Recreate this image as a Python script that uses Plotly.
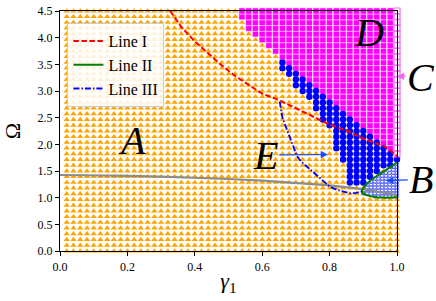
import numpy as np
import plotly.graph_objects as go

# ---------------- data ----------------
# sampling grid of the phase diagram
gamma_grid = np.round(np.arange(1, 51) * 0.02, 2)      # 0.02 ... 1.00
omega_grid = np.linspace(0.0, 4.5, 43)

# region D (magenta squares): lowest Omega per column
d_cols = [0.54, 0.56, 0.58, 0.60, 0.62, 0.64, 0.66, 0.68, 0.70, 0.72, 0.74, 0.76,
          0.78, 0.80, 0.82, 0.84, 0.86, 0.88, 0.90, 0.92, 0.94, 0.96, 0.98]
d_lo = [4.39, 4.18, 4.07, 3.96, 3.86, 3.75, 3.64, 3.54, 3.43, 3.32, 3.21, 3.11,
        3.00, 2.89, 2.79, 2.68, 2.57, 2.46, 2.36, 2.25, 2.14, 2.04, 1.93]

# blue-dot region: Omega range per column
blue_cols = [0.66, 0.68, 0.70, 0.72, 0.74, 0.76, 0.78, 0.80, 0.82, 0.84, 0.86,
             0.88, 0.90, 0.92, 0.94, 0.96, 0.98, 1.00]
blue_lo = [3.43, 3.32, 3.11, 3.00, 2.89, 2.68, 2.46, 2.36, 1.93, 1.71, 1.29,
           1.29, 1.29, 1.39, 1.50, 1.61, 1.61, 1.71]
blue_hi = [3.54, 3.43, 3.32, 3.21, 3.11, 3.00, 2.89, 2.79, 2.68, 2.57, 2.46,
           2.36, 2.25, 2.14, 2.04, 1.93, 1.82, 1.71]

# region C: the gamma = 1 column above this Omega
c_gamma = 1.0
c_lo = 1.82

# Line I (red dashed)
line1_g = [0.327, 0.36, 0.40, 0.44, 0.48, 0.52, 0.56, 0.60, 0.65, 0.70, 0.75,
           0.80, 0.85, 0.90, 0.95, 0.97, 1.00]
line1_o = [4.50, 4.20, 3.93, 3.70, 3.48, 3.28, 3.12, 2.95, 2.83, 2.68, 2.52,
           2.37, 2.26, 2.11, 1.99, 1.94, 1.78]

# Line II (green solid) - boundary of region B
line2_g = [1.00, 0.985, 0.97, 0.955, 0.94, 0.925, 0.912, 0.902, 0.896, 0.897,
           0.905, 0.92, 0.94, 0.97, 1.00]
line2_o = [1.66, 1.59, 1.53, 1.47, 1.41, 1.34, 1.27, 1.20, 1.13, 1.09,
           1.06, 1.03, 1.01, 1.00, 1.01]

# Line III (blue dash-dot)
line3_g = [0.652, 0.656, 0.660, 0.666, 0.672, 0.680, 0.688, 0.695, 0.703, 0.715,
           0.733, 0.748, 0.762, 0.780, 0.800, 0.820, 0.840, 0.860, 0.880, 0.896]
line3_o = [2.80, 2.66, 2.50, 2.40, 2.30, 2.18, 2.06, 1.92, 1.78, 1.68,
           1.58, 1.50, 1.41, 1.31, 1.21, 1.15, 1.11, 1.08, 1.09, 1.12]

# grey curve
grey_g = [0.0, 0.1, 0.2, 0.3, 0.4, 0.5, 0.6, 0.7, 0.8, 0.9, 0.95, 1.0]
grey_o = [1.425, 1.42, 1.41, 1.395, 1.375, 1.35, 1.32, 1.28, 1.23, 1.16, 1.11, 1.05]

x_ticks = [0.0, 0.2, 0.4, 0.6, 0.8, 1.0]
y_ticks = [0.0, 0.5, 1.0, 1.5, 2.0, 2.5, 3.0, 3.5, 4.0, 4.5]

# ---------------- classification of grid points ----------------
G, W = np.meshgrid(gamma_grid, omega_grid)
G = G.ravel()
W = W.ravel()
label = np.full(G.shape, "A", dtype=object)
tol = 0.03
for c, lo in zip(d_cols, d_lo):
    label[np.isclose(G, c) & (W >= lo - tol)] = "D"
for c, lo, hi in zip(blue_cols, blue_lo, blue_hi):
    label[np.isclose(G, c) & (W >= lo - tol) & (W <= hi + tol)] = "E"
label[np.isclose(G, c_gamma) & (W >= c_lo - tol)] = "C"


def inside(px, py, vx, vy):
    vx = np.asarray(vx, float)
    vy = np.asarray(vy, float)
    res = np.zeros(np.shape(px), bool)
    j = len(vx) - 1
    for i in range(len(vx)):
        cond = ((vy[i] > py) != (vy[j] > py)) & (
            px < (vx[j] - vx[i]) * (py - vy[i]) / (vy[j] - vy[i] + 1e-12) + vx[i])
        res ^= cond
        j = i
    return res


poly_g = list(line2_g) + [1.01, 1.01]
poly_o = list(line2_o) + [line2_o[-1], line2_o[0]]
inB = inside(G, W, poly_g, poly_o)
label[inB & (label == "A")] = "B"

# hatch-like pattern inside B
fg, fo = np.meshgrid(np.arange(0.89, 1.001, 0.011), np.arange(0.97, 1.70, 0.055))
fg = fg.ravel()
fo = fo.ravel()
mB = inside(fg, fo, poly_g, poly_o)
fg, fo = fg[mB], fo[mB]

fig = go.Figure()

mA = label == "A"
fig.add_trace(go.Scatter(x=G[mA], y=W[mA], mode="markers", showlegend=False,
                         cliponaxis=False, hoverinfo="skip",
                         marker=dict(symbol="triangle-up", size=5.6, color="#FFA500",
                                     line=dict(width=0))))
mD = label == "D"
fig.add_trace(go.Scatter(x=G[mD], y=W[mD], mode="markers", showlegend=False,
                         cliponaxis=False, hoverinfo="skip",
                         marker=dict(symbol="square", size=6.3, color="#FF00FF",
                                     line=dict(width=0.6, color="white"))))
mE = label == "E"
fig.add_trace(go.Scatter(x=G[mE], y=W[mE], mode="markers", showlegend=False,
                         cliponaxis=False, hoverinfo="skip",
                         marker=dict(symbol="circle", size=6.4, color="#0000FF",
                                     line=dict(width=0))))
mC = label == "C"
fig.add_trace(go.Scatter(x=G[mC], y=W[mC], mode="markers", showlegend=False,
                         cliponaxis=False, hoverinfo="skip",
                         marker=dict(symbol="square-open", size=6,
                                     color="#F070F0", line=dict(width=1.2))))
fig.add_trace(go.Scatter(x=fg, y=fo, mode="markers", showlegend=False,
                         cliponaxis=False, hoverinfo="skip",
                         marker=dict(symbol="circle-open", size=3.6,
                                     color="#3040FF", line=dict(width=0.7))))

fig.add_trace(go.Scatter(x=grey_g, y=grey_o, mode="lines", showlegend=False,
                         line=dict(color="#8c8c8c", width=2.2), hoverinfo="skip"))
fig.add_trace(go.Scatter(x=line1_g, y=line1_o, mode="lines", name="Line I",
                         line=dict(color="#FF0000", width=2, dash="5.5px,2.5px")))
fig.add_trace(go.Scatter(x=line2_g, y=line2_o, mode="lines", name="Line II",
                         line=dict(color="#008000", width=2)))
fig.add_trace(go.Scatter(x=line3_g, y=line3_o, mode="lines", name="Line III",
                         line=dict(color="#0000FF", width=1.8,
                                   dash="6px,2px,1.5px,2px")))

serif = "Liberation Serif"
fig.update_layout(
    width=436, height=301,
    margin=dict(l=60, r=39, t=4, b=50),
    paper_bgcolor="white", plot_bgcolor="white",
    font=dict(family=serif, size=12, color="black"),
    legend=dict(x=0.022, y=0.95, xanchor="left", yanchor="top",
                bgcolor="rgba(255,255,255,0.85)", bordercolor="#cccccc",
                borderwidth=1, font=dict(family=serif, size=16),
                itemwidth=30, tracegroupgap=0),
)
fig.update_xaxes(range=[0, 1], tickvals=x_ticks, tickformat=".1f",
                 showgrid=False, zeroline=False, showline=True, mirror=True,
                 linecolor="black", linewidth=1.2, ticks="outside", ticklen=4,
                 tickcolor="black", tickfont=dict(family=serif, size=12),
                 ticklabeloverflow="allow",
                 title=dict(text="<i>γ</i><sub>1</sub>", standoff=0,
                            font=dict(family=serif, size=22)))
fig.update_yaxes(range=[0, 4.5], tickvals=y_ticks, tickformat=".1f",
                 showgrid=False, zeroline=False, showline=True, mirror=True,
                 linecolor="black", linewidth=1.2, ticks="outside", ticklen=4,
                 tickcolor="black", tickfont=dict(family=serif, size=12),
                 ticklabeloverflow="allow",
                 title=dict(text="Ω", standoff=10,
                            font=dict(family=serif, size=22)))

ann = []
letters = [("A", 0.214, 2.07), ("D", 0.918, 4.10)]
for t, x, y in letters:
    ann.append(dict(xref="x", yref="y", x=x, y=y, text="<i>%s</i>" % t,
                    xanchor="center", yanchor="middle",
                    showarrow=False, font=dict(family=serif, size=40, color="black")))
# letters with arrows: (letter, arrow head, letter position, arrow colour)
arrows = [("E", (0.795, 1.81), (0.609, 1.80), "#1a4cff"),
          ("B", (0.968, 1.32), (1.072, 1.345), "#1a4cff"),
          ("C", (1.0, 3.28), (1.072, 3.26), "#ee66ee")]
for t, (hx, hy), (tx, ty), col in arrows:
    ann.append(dict(xref="x", yref="y", x=hx, y=hy, axref="x", ayref="y",
                    ax=tx, ay=ty, text="<i>%s</i>" % t, showarrow=True,
                    arrowhead=2, arrowsize=1.2, arrowwidth=1.2, arrowcolor=col,
                    standoff=0, startstandoff=0,
                    font=dict(family=serif, size=40, color="black")))
fig.update_layout(annotations=ann)

fig.write_html("out.html", config={"displayModeBar": False},
               post_script="document.body.style.margin='0px';")
